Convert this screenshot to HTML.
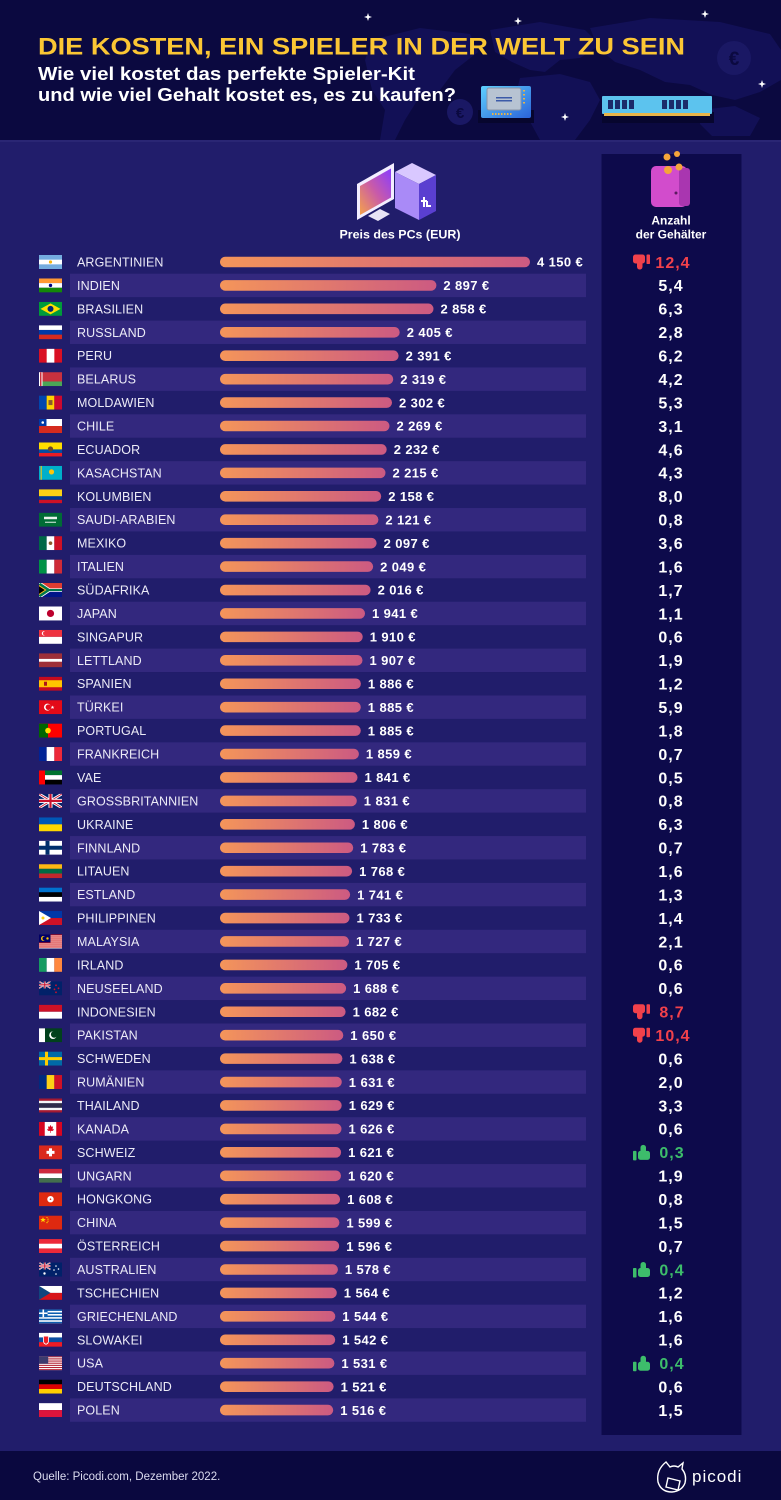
<!DOCTYPE html>
<html><head><meta charset="utf-8"><style>
html,body{margin:0;padding:0;background:#211d6b;}
svg{display:block;font-family:"Liberation Sans",sans-serif;}
.s{fill:#33287e}
.n{font-size:12.5px;fill:#ecebf7;letter-spacing:0.1px}
.b{fill:url(#bg)}
.v{font-size:13px;font-weight:bold;fill:#fff;letter-spacing:0.4px}
.r{font-size:16px;font-weight:bold;fill:#fff;letter-spacing:1px;text-anchor:middle}
.rd{fill:#f2414b}
.gr{fill:#3dbd6b}
</style></head><body>
<svg width="781" height="1500" viewBox="0 0 781 1500" xmlns="http://www.w3.org/2000/svg">
<defs>
<linearGradient id="bg" x1="0" x2="1" y1="0" y2="0"><stop offset="0" stop-color="#f4955a"/><stop offset="1" stop-color="#cc5a82"/></linearGradient>
<linearGradient id="scr" x1="1" y1="0" x2="0" y2="1"><stop offset="0" stop-color="#8a3cff"/><stop offset="0.5" stop-color="#c95ba8"/><stop offset="1" stop-color="#f5a24a"/></linearGradient>
<linearGradient id="cpu" x1="0" y1="0" x2="1" y2="1"><stop offset="0" stop-color="#5fd0ff"/><stop offset="1" stop-color="#2b63d8"/></linearGradient>
<clipPath id="fc"><rect width="23" height="14"/></clipPath>
<g id="uj"><rect width="23" height="14" fill="#012169"/><path d="M0,0L23,14M23,0L0,14" stroke="#fff" stroke-width="2.8"/><path d="M0,0L23,14M23,0L0,14" stroke="#c8102e" stroke-width="0.9"/><path d="M11.5,0V14M0,7H23" stroke="#fff" stroke-width="4"/><path d="M11.5,0V14M0,7H23" stroke="#c8102e" stroke-width="2.2"/></g>
</defs>
<!-- backgrounds -->
<rect width="781" height="1500" fill="#211d6b"/>
<rect width="781" height="140" fill="#0b0940"/>
<rect y="140" width="781" height="2" fill="#2a2674"/>
<!-- world map (faint) -->
<g fill="#121056">
<path d="M372,40 L420,28 L470,34 L478,52 L455,70 L440,90 L420,96 L405,120 L395,140 L380,140 L385,110 L372,90 L365,60Z"/>
<path d="M490,30 L540,22 L585,30 L600,45 L580,58 L560,60 L545,72 L530,70 L512,62 L495,52Z"/>
<path d="M520,78 L560,74 L590,82 L600,100 L590,120 L575,140 L540,140 L528,118 L515,98Z"/>
<path d="M590,28 L650,18 L720,22 L770,34 L781,50 L781,80 L760,92 L735,100 L712,95 L690,85 L665,82 L640,70 L615,62 L598,48Z"/>
<path d="M700,110 L735,106 L760,118 L750,136 L712,136 L700,124Z"/>
</g>
<!-- euro coins -->
<circle cx="734" cy="58" r="17" fill="#1a1864"/><text x="734" y="65" font-size="19" font-weight="bold" fill="#0b0940" text-anchor="middle">€</text>
<circle cx="460" cy="112" r="13" fill="#1a1864"/><text x="460" y="118" font-size="15" font-weight="bold" fill="#0b0940" text-anchor="middle">€</text>
<!-- stars -->
<g fill="#fff">
<polygon points="368,13 369,16 372,17 369,18 368,21 367,18 364,17 367,16"/>
<polygon points="518,17 519,20 522,21 519,22 518,25 517,22 514,21 517,20"/>
<polygon points="705,10 706,13 709,14 706,15 705,18 704,15 701,14 704,13"/>
<polygon points="762,80 763,83 766,84 763,85 762,88 761,85 758,84 761,83"/>
<polygon points="565,113 566,116 569,117 566,118 565,121 564,118 561,117 564,116"/>
</g>
<!-- CPU -->
<rect x="478" y="110" width="56" height="13" fill="#07062e"/>
<rect x="481" y="86" width="50" height="32" rx="2" fill="url(#cpu)"/>
<rect x="487" y="88" width="34" height="22" rx="2" fill="#b7c3d2" stroke="#8a96a8" stroke-width="1"/>
<rect x="496" y="97" width="16" height="1.5" fill="#3b5aa8"/><rect x="496" y="100" width="16" height="1.5" fill="#3b5aa8"/>
<g fill="#e8b44a"><rect x="492" y="113" width="1.5" height="2"/><rect x="495" y="113" width="1.5" height="2"/><rect x="498" y="113" width="1.5" height="2"/><rect x="501" y="113" width="1.5" height="2"/><rect x="504" y="113" width="1.5" height="2"/><rect x="507" y="113" width="1.5" height="2"/><rect x="510" y="113" width="1.5" height="2"/><rect x="523" y="90" width="2" height="1.5"/><rect x="523" y="94" width="2" height="1.5"/><rect x="523" y="98" width="2" height="1.5"/><rect x="523" y="102" width="2" height="1.5"/></g>
<!-- RAM -->
<rect x="602" y="112" width="112" height="11" fill="#07062e"/>
<rect x="602" y="96" width="110" height="18" rx="1" fill="#5cc3ee"/>
<g fill="#1b2a6a"><rect x="608" y="100" width="5" height="9"/><rect x="615" y="100" width="5" height="9"/><rect x="622" y="100" width="5" height="9"/><rect x="629" y="100" width="5" height="9"/><rect x="662" y="100" width="5" height="9"/><rect x="669" y="100" width="5" height="9"/><rect x="676" y="100" width="5" height="9"/><rect x="683" y="100" width="5" height="9"/></g>
<rect x="604" y="113" width="106" height="3" fill="#e8b44a"/>
<!-- Title -->
<text x="38" y="54.5" font-size="24.5" font-weight="bold" fill="#fbc634" textLength="647" lengthAdjust="spacingAndGlyphs">DIE KOSTEN, EIN SPIELER IN DER WELT ZU SEIN</text>
<text x="38" y="80" font-size="18" font-weight="bold" fill="#fff" textLength="377" lengthAdjust="spacingAndGlyphs">Wie viel kostet das perfekte Spieler-Kit</text>
<text x="38" y="101" font-size="18" font-weight="bold" fill="#fff" textLength="418" lengthAdjust="spacingAndGlyphs">und wie viel Gehalt kostet es, es zu kaufen?</text>
<!-- dark column -->
<rect x="601.5" y="154" width="140" height="1281" fill="#0d0a4b"/>
<!-- PC icon -->
<polygon points="395,172 412,163 436,175 419,184" fill="#d9c8ff"/>
<polygon points="395,172 419,184 419,220 395,208" fill="#a98af7"/>
<polygon points="419,184 436,175 436,211 419,220" fill="#5a3fd0"/>
<path d="M424,197 v10 M421,201 h6 M427,201 v5 h4" stroke="#fff" stroke-width="2" fill="none"/>
<polygon points="368,216 380,209 390,214 378,221" fill="#e8e4f5"/>
<polygon points="357,184 394,163 394,199 357,220" fill="#f3eeff"/>
<polygon points="360,186 391,168.5 391,197.5 360,215" fill="url(#scr)"/>
<!-- wallet -->
<circle cx="667" cy="157" r="3.5" fill="#f5a53a"/><circle cx="677" cy="154" r="3" fill="#f5a53a"/>
<rect x="651" y="166" width="36" height="41" rx="5" fill="#d24ccc"/>
<rect x="679" y="168" width="11" height="38" rx="3" fill="#a936b0"/>
<circle cx="668" cy="170" r="4" fill="#f5a53a"/><circle cx="679" cy="167" r="3.5" fill="#f5a53a"/>
<circle cx="676" cy="193" r="1.5" fill="#5a1a60"/>
<!-- column headers -->
<text x="400" y="238.5" font-size="12" font-weight="bold" fill="#fff" text-anchor="middle" textLength="121" lengthAdjust="spacingAndGlyphs">Preis des PCs (EUR)</text>
<text x="671" y="224.5" font-size="12" font-weight="bold" fill="#fff" text-anchor="middle">Anzahl</text>
<text x="671" y="238.5" font-size="12" font-weight="bold" fill="#fff" text-anchor="middle">der Gehälter</text>

<!-- ROWS -->
<g transform="translate(0,262)"><g transform="translate(39,-7)" clip-path="url(#fc)"><rect width="23" height="14" fill="#74acdf"/><rect y="4.67" width="23" height="4.67" fill="#fff"/><circle cx="11.5" cy="7" r="1.6" fill="#f6b40e"/></g><text class="n" x="77" y="4.5">ARGENTINIEN</text><rect class="b" x="220" y="-5.3" width="310" height="10.6" rx="5.3"/><text class="v" x="537" y="4.7">4 150 €</text><g transform="translate(633,-7.5)" class="rd"><rect x="0" y="0" width="12" height="9" rx="2.5"/><rect x="4" y="4" width="5.5" height="11" rx="2.7"/><rect x="13.5" y="0" width="3.5" height="9.5" rx="0.8"/></g><text class="r rd" x="673" y="5.8">12,4</text></g>

<g transform="translate(0,285.43)"><rect class="s" x="70" y="-11.7" width="516" height="23.4"/><g transform="translate(39,-7)" clip-path="url(#fc)"><rect width="23" height="4.67" fill="#ff9933"/><rect y="4.67" width="23" height="4.67" fill="#fff"/><rect y="9.33" width="23" height="4.67" fill="#138808"/><circle cx="11.5" cy="7" r="1.7" fill="#000080"/></g><text class="n" x="77" y="4.5">INDIEN</text><rect class="b" x="220" y="-5.3" width="216.4" height="10.6" rx="5.3"/><text class="v" x="443.4" y="4.7">2 897 €</text><text class="r" x="671" y="5.8">5,4</text></g>

<g transform="translate(0,308.86)"><g transform="translate(39,-7)" clip-path="url(#fc)"><rect width="23" height="14" fill="#009b3a"/><polygon points="11.5,1.5 21.5,7 11.5,12.5 1.5,7" fill="#fedf00"/><circle cx="11.5" cy="7" r="3" fill="#002776"/></g><text class="n" x="77" y="4.5">BRASILIEN</text><rect class="b" x="220" y="-5.3" width="213.5" height="10.6" rx="5.3"/><text class="v" x="440.5" y="4.7">2 858 €</text><text class="r" x="671" y="5.8">6,3</text></g>

<g transform="translate(0,332.29)"><rect class="s" x="70" y="-11.7" width="516" height="23.4"/><g transform="translate(39,-7)" clip-path="url(#fc)"><rect width="23" height="4.67" fill="#fff"/><rect y="4.67" width="23" height="4.67" fill="#0039a6"/><rect y="9.33" width="23" height="4.67" fill="#d52b1e"/></g><text class="n" x="77" y="4.5">RUSSLAND</text><rect class="b" x="220" y="-5.3" width="179.7" height="10.6" rx="5.3"/><text class="v" x="406.7" y="4.7">2 405 €</text><text class="r" x="671" y="5.8">2,8</text></g>

<g transform="translate(0,355.72)"><g transform="translate(39,-7)" clip-path="url(#fc)"><rect width="23" height="14" fill="#d91023"/><rect x="7.67" width="7.67" height="14" fill="#fff"/></g><text class="n" x="77" y="4.5">PERU</text><rect class="b" x="220" y="-5.3" width="178.6" height="10.6" rx="5.3"/><text class="v" x="405.6" y="4.7">2 391 €</text><text class="r" x="671" y="5.8">6,2</text></g>

<g transform="translate(0,379.15)"><rect class="s" x="70" y="-11.7" width="516" height="23.4"/><g transform="translate(39,-7)" clip-path="url(#fc)"><rect width="23" height="9.33" fill="#c8313e"/><rect y="9.33" width="23" height="4.67" fill="#4aa657"/><rect width="3.5" height="14" fill="#fff"/><rect x="1" width="1.5" height="14" fill="#c8313e"/></g><text class="n" x="77" y="4.5">BELARUS</text><rect class="b" x="220" y="-5.3" width="173.2" height="10.6" rx="5.3"/><text class="v" x="400.2" y="4.7">2 319 €</text><text class="r" x="671" y="5.8">4,2</text></g>

<g transform="translate(0,402.58)"><g transform="translate(39,-7)" clip-path="url(#fc)"><rect width="7.67" height="14" fill="#0046ae"/><rect x="7.67" width="7.67" height="14" fill="#ffd200"/><rect x="15.33" width="7.67" height="14" fill="#cc092f"/><rect x="9.5" y="4.5" width="4" height="5" fill="#8a5a2b"/></g><text class="n" x="77" y="4.5">MOLDAWIEN</text><rect class="b" x="220" y="-5.3" width="172" height="10.6" rx="5.3"/><text class="v" x="399" y="4.7">2 302 €</text><text class="r" x="671" y="5.8">5,3</text></g>

<g transform="translate(0,426.01)"><rect class="s" x="70" y="-11.7" width="516" height="23.4"/><g transform="translate(39,-7)" clip-path="url(#fc)"><rect width="23" height="7" fill="#fff"/><rect y="7" width="23" height="7" fill="#d52b1e"/><rect width="7.5" height="7" fill="#0039a6"/><circle cx="3.75" cy="3.5" r="1.3" fill="#fff"/></g><text class="n" x="77" y="4.5">CHILE</text><rect class="b" x="220" y="-5.3" width="169.5" height="10.6" rx="5.3"/><text class="v" x="396.5" y="4.7">2 269 €</text><text class="r" x="671" y="5.8">3,1</text></g>

<g transform="translate(0,449.44)"><g transform="translate(39,-7)" clip-path="url(#fc)"><rect width="23" height="7" fill="#ffdd00"/><rect y="7" width="23" height="3.5" fill="#034ea2"/><rect y="10.5" width="23" height="3.5" fill="#ed1c24"/><circle cx="11.5" cy="6.5" r="2.6" fill="#6b4a2a"/></g><text class="n" x="77" y="4.5">ECUADOR</text><rect class="b" x="220" y="-5.3" width="166.7" height="10.6" rx="5.3"/><text class="v" x="393.7" y="4.7">2 232 €</text><text class="r" x="671" y="5.8">4,6</text></g>

<g transform="translate(0,472.87)"><rect class="s" x="70" y="-11.7" width="516" height="23.4"/><g transform="translate(39,-7)" clip-path="url(#fc)"><rect width="23" height="14" fill="#00afca"/><circle cx="12.5" cy="6" r="2.6" fill="#fec50c"/><rect x="1.5" width="1.5" height="14" fill="#fec50c" opacity="0.7"/></g><text class="n" x="77" y="4.5">KASACHSTAN</text><rect class="b" x="220" y="-5.3" width="165.5" height="10.6" rx="5.3"/><text class="v" x="392.5" y="4.7">2 215 €</text><text class="r" x="671" y="5.8">4,3</text></g>

<g transform="translate(0,496.3)"><g transform="translate(39,-7)" clip-path="url(#fc)"><rect width="23" height="7" fill="#fcd116"/><rect y="7" width="23" height="3.5" fill="#003893"/><rect y="10.5" width="23" height="3.5" fill="#ce1126"/></g><text class="n" x="77" y="4.5">KOLUMBIEN</text><rect class="b" x="220" y="-5.3" width="161.2" height="10.6" rx="5.3"/><text class="v" x="388.2" y="4.7">2 158 €</text><text class="r" x="671" y="5.8">8,0</text></g>

<g transform="translate(0,519.73)"><rect class="s" x="70" y="-11.7" width="516" height="23.4"/><g transform="translate(39,-7)" clip-path="url(#fc)"><rect width="23" height="14" fill="#006c35"/><rect x="5" y="4" width="13" height="2.5" fill="#e8f3ec"/><rect x="6" y="9" width="11" height="1" fill="#e8f3ec"/></g><text class="n" x="77" y="4.5">SAUDI-ARABIEN</text><rect class="b" x="220" y="-5.3" width="158.4" height="10.6" rx="5.3"/><text class="v" x="385.4" y="4.7">2 121 €</text><text class="r" x="671" y="5.8">0,8</text></g>

<g transform="translate(0,543.16)"><g transform="translate(39,-7)" clip-path="url(#fc)"><rect width="7.67" height="14" fill="#006847"/><rect x="7.67" width="7.67" height="14" fill="#fff"/><rect x="15.33" width="7.67" height="14" fill="#ce1126"/><circle cx="11.5" cy="7" r="1.8" fill="#8a5a2b"/></g><text class="n" x="77" y="4.5">MEXIKO</text><rect class="b" x="220" y="-5.3" width="156.6" height="10.6" rx="5.3"/><text class="v" x="383.6" y="4.7">2 097 €</text><text class="r" x="671" y="5.8">3,6</text></g>

<g transform="translate(0,566.59)"><rect class="s" x="70" y="-11.7" width="516" height="23.4"/><g transform="translate(39,-7)" clip-path="url(#fc)"><rect width="7.67" height="14" fill="#009246"/><rect x="7.67" width="7.67" height="14" fill="#fff"/><rect x="15.33" width="7.67" height="14" fill="#ce2b37"/></g><text class="n" x="77" y="4.5">ITALIEN</text><rect class="b" x="220" y="-5.3" width="153.1" height="10.6" rx="5.3"/><text class="v" x="380.1" y="4.7">2 049 €</text><text class="r" x="671" y="5.8">1,6</text></g>

<g transform="translate(0,590.02)"><g transform="translate(39,-7)" clip-path="url(#fc)"><rect width="23" height="7" fill="#e03c31"/><rect y="7" width="23" height="7" fill="#001489"/><polygon points="0,0 3,0 11,5.3 23,5.3 23,8.7 11,8.7 3,14 0,14" fill="#fff"/><polygon points="0,0.8 1.5,0 10.5,6 23,6 23,8 10.5,8 1.5,14 0,13.2" fill="#007749"/><polygon points="0,2 7.5,7 0,12" fill="#ffb81c"/><polygon points="0,3.2 5.8,7 0,10.8" fill="#000"/></g><text class="n" x="77" y="4.5">SÜDAFRIKA</text><rect class="b" x="220" y="-5.3" width="150.6" height="10.6" rx="5.3"/><text class="v" x="377.6" y="4.7">2 016 €</text><text class="r" x="671" y="5.8">1,7</text></g>

<g transform="translate(0,613.45)"><rect class="s" x="70" y="-11.7" width="516" height="23.4"/><g transform="translate(39,-7)" clip-path="url(#fc)"><rect width="23" height="14" fill="#fff"/><circle cx="11.5" cy="7" r="3.6" fill="#bc002d"/></g><text class="n" x="77" y="4.5">JAPAN</text><rect class="b" x="220" y="-5.3" width="145" height="10.6" rx="5.3"/><text class="v" x="372" y="4.7">1 941 €</text><text class="r" x="671" y="5.8">1,1</text></g>

<g transform="translate(0,636.88)"><g transform="translate(39,-7)" clip-path="url(#fc)"><rect width="23" height="7" fill="#ef3340"/><rect y="7" width="23" height="7" fill="#fff"/><circle cx="5" cy="3.5" r="2.2" fill="#fff"/><circle cx="6" cy="3.5" r="2" fill="#ef3340"/></g><text class="n" x="77" y="4.5">SINGAPUR</text><rect class="b" x="220" y="-5.3" width="142.7" height="10.6" rx="5.3"/><text class="v" x="369.7" y="4.7">1 910 €</text><text class="r" x="671" y="5.8">0,6</text></g>

<g transform="translate(0,660.31)"><rect class="s" x="70" y="-11.7" width="516" height="23.4"/><g transform="translate(39,-7)" clip-path="url(#fc)"><rect width="23" height="14" fill="#9e3039"/><rect y="5.6" width="23" height="2.8" fill="#fff"/></g><text class="n" x="77" y="4.5">LETTLAND</text><rect class="b" x="220" y="-5.3" width="142.5" height="10.6" rx="5.3"/><text class="v" x="369.5" y="4.7">1 907 €</text><text class="r" x="671" y="5.8">1,9</text></g>

<g transform="translate(0,683.74)"><g transform="translate(39,-7)" clip-path="url(#fc)"><rect width="23" height="14" fill="#c60b1e"/><rect y="3.5" width="23" height="7" fill="#ffc400"/><rect x="5" y="5" width="3" height="4" fill="#ad1519"/></g><text class="n" x="77" y="4.5">SPANIEN</text><rect class="b" x="220" y="-5.3" width="140.9" height="10.6" rx="5.3"/><text class="v" x="367.9" y="4.7">1 886 €</text><text class="r" x="671" y="5.8">1,2</text></g>

<g transform="translate(0,707.17)"><rect class="s" x="70" y="-11.7" width="516" height="23.4"/><g transform="translate(39,-7)" clip-path="url(#fc)"><rect width="23" height="14" fill="#e30a17"/><circle cx="8.5" cy="7" r="3.5" fill="#fff"/><circle cx="9.4" cy="7" r="2.8" fill="#e30a17"/><polygon points="13.5,5.3 14,6.6 15.4,6.6 14.3,7.4 14.7,8.8 13.5,8 12.3,8.8 12.7,7.4 11.6,6.6 13,6.6" fill="#fff"/></g><text class="n" x="77" y="4.5">TÜRKEI</text><rect class="b" x="220" y="-5.3" width="140.8" height="10.6" rx="5.3"/><text class="v" x="367.8" y="4.7">1 885 €</text><text class="r" x="671" y="5.8">5,9</text></g>

<g transform="translate(0,730.6)"><g transform="translate(39,-7)" clip-path="url(#fc)"><rect width="23" height="14" fill="#ff0000"/><rect width="9" height="14" fill="#006600"/><circle cx="9" cy="7" r="2.8" fill="#ffe000"/></g><text class="n" x="77" y="4.5">PORTUGAL</text><rect class="b" x="220" y="-5.3" width="140.8" height="10.6" rx="5.3"/><text class="v" x="367.8" y="4.7">1 885 €</text><text class="r" x="671" y="5.8">1,8</text></g>

<g transform="translate(0,754.03)"><rect class="s" x="70" y="-11.7" width="516" height="23.4"/><g transform="translate(39,-7)" clip-path="url(#fc)"><rect width="7.67" height="14" fill="#002395"/><rect x="7.67" width="7.67" height="14" fill="#fff"/><rect x="15.33" width="7.67" height="14" fill="#ed2939"/></g><text class="n" x="77" y="4.5">FRANKREICH</text><rect class="b" x="220" y="-5.3" width="138.9" height="10.6" rx="5.3"/><text class="v" x="365.9" y="4.7">1 859 €</text><text class="r" x="671" y="5.8">0,7</text></g>

<g transform="translate(0,777.46)"><g transform="translate(39,-7)" clip-path="url(#fc)"><rect width="23" height="4.67" fill="#00732f"/><rect y="4.67" width="23" height="4.67" fill="#fff"/><rect y="9.33" width="23" height="4.67" fill="#000"/><rect width="6" height="14" fill="#ff0000"/></g><text class="n" x="77" y="4.5">VAE</text><rect class="b" x="220" y="-5.3" width="137.5" height="10.6" rx="5.3"/><text class="v" x="364.5" y="4.7">1 841 €</text><text class="r" x="671" y="5.8">0,5</text></g>

<g transform="translate(0,800.89)"><rect class="s" x="70" y="-11.7" width="516" height="23.4"/><g transform="translate(39,-7)" clip-path="url(#fc)"><use href="#uj"/></g><text class="n" x="77" y="4.5">GROSSBRITANNIEN</text><rect class="b" x="220" y="-5.3" width="136.8" height="10.6" rx="5.3"/><text class="v" x="363.8" y="4.7">1 831 €</text><text class="r" x="671" y="5.8">0,8</text></g>

<g transform="translate(0,824.32)"><g transform="translate(39,-7)" clip-path="url(#fc)"><rect width="23" height="7" fill="#0057b7"/><rect y="7" width="23" height="7" fill="#ffd700"/></g><text class="n" x="77" y="4.5">UKRAINE</text><rect class="b" x="220" y="-5.3" width="134.9" height="10.6" rx="5.3"/><text class="v" x="361.9" y="4.7">1 806 €</text><text class="r" x="671" y="5.8">6,3</text></g>

<g transform="translate(0,847.75)"><rect class="s" x="70" y="-11.7" width="516" height="23.4"/><g transform="translate(39,-7)" clip-path="url(#fc)"><rect width="23" height="14" fill="#fff"/><rect x="6.5" width="4" height="14" fill="#002f6c"/><rect y="5" width="23" height="4" fill="#002f6c"/></g><text class="n" x="77" y="4.5">FINNLAND</text><rect class="b" x="220" y="-5.3" width="133.2" height="10.6" rx="5.3"/><text class="v" x="360.2" y="4.7">1 783 €</text><text class="r" x="671" y="5.8">0,7</text></g>

<g transform="translate(0,871.18)"><g transform="translate(39,-7)" clip-path="url(#fc)"><rect width="23" height="4.67" fill="#fdb913"/><rect y="4.67" width="23" height="4.67" fill="#006a44"/><rect y="9.33" width="23" height="4.67" fill="#c1272d"/></g><text class="n" x="77" y="4.5">LITAUEN</text><rect class="b" x="220" y="-5.3" width="132.1" height="10.6" rx="5.3"/><text class="v" x="359.1" y="4.7">1 768 €</text><text class="r" x="671" y="5.8">1,6</text></g>

<g transform="translate(0,894.61)"><rect class="s" x="70" y="-11.7" width="516" height="23.4"/><g transform="translate(39,-7)" clip-path="url(#fc)"><rect width="23" height="4.67" fill="#0072ce"/><rect y="4.67" width="23" height="4.67" fill="#000"/><rect y="9.33" width="23" height="4.67" fill="#fff"/></g><text class="n" x="77" y="4.5">ESTLAND</text><rect class="b" x="220" y="-5.3" width="130.1" height="10.6" rx="5.3"/><text class="v" x="357.1" y="4.7">1 741 €</text><text class="r" x="671" y="5.8">1,3</text></g>

<g transform="translate(0,918.04)"><g transform="translate(39,-7)" clip-path="url(#fc)"><rect width="23" height="7" fill="#0038a8"/><rect y="7" width="23" height="7" fill="#ce1126"/><polygon points="0,0 12,7 0,14" fill="#fff"/><circle cx="4" cy="7" r="1.5" fill="#fcd116"/></g><text class="n" x="77" y="4.5">PHILIPPINEN</text><rect class="b" x="220" y="-5.3" width="129.5" height="10.6" rx="5.3"/><text class="v" x="356.5" y="4.7">1 733 €</text><text class="r" x="671" y="5.8">1,4</text></g>

<g transform="translate(0,941.47)"><rect class="s" x="70" y="-11.7" width="516" height="23.4"/><g transform="translate(39,-7)" clip-path="url(#fc)"><rect width="23" height="14" fill="#fff"/><rect y="0" width="23" height="1" fill="#cc0001"/><rect y="2" width="23" height="1" fill="#cc0001"/><rect y="4" width="23" height="1" fill="#cc0001"/><rect y="6" width="23" height="1" fill="#cc0001"/><rect y="8" width="23" height="1" fill="#cc0001"/><rect y="10" width="23" height="1" fill="#cc0001"/><rect y="12" width="23" height="1" fill="#cc0001"/><rect width="11.5" height="8" fill="#010066"/><circle cx="4.5" cy="4" r="2.5" fill="#fc0"/><circle cx="5.5" cy="4" r="2.1" fill="#010066"/><circle cx="8.5" cy="4" r="1.2" fill="#fc0"/></g><text class="n" x="77" y="4.5">MALAYSIA</text><rect class="b" x="220" y="-5.3" width="129" height="10.6" rx="5.3"/><text class="v" x="356" y="4.7">1 727 €</text><text class="r" x="671" y="5.8">2,1</text></g>

<g transform="translate(0,964.9)"><g transform="translate(39,-7)" clip-path="url(#fc)"><rect width="7.67" height="14" fill="#169b62"/><rect x="7.67" width="7.67" height="14" fill="#fff"/><rect x="15.33" width="7.67" height="14" fill="#ff883e"/></g><text class="n" x="77" y="4.5">IRLAND</text><rect class="b" x="220" y="-5.3" width="127.4" height="10.6" rx="5.3"/><text class="v" x="354.4" y="4.7">1 705 €</text><text class="r" x="671" y="5.8">0,6</text></g>

<g transform="translate(0,988.33)"><rect class="s" x="70" y="-11.7" width="516" height="23.4"/><g transform="translate(39,-7)" clip-path="url(#fc)"><rect width="23" height="14" fill="#012169"/><g transform="scale(0.5)"><use href="#uj"/></g><circle cx="17" cy="4" r="0.9" fill="#c8102e"/><circle cx="19.5" cy="7" r="0.9" fill="#c8102e"/><circle cx="15.5" cy="8" r="0.9" fill="#c8102e"/><circle cx="17" cy="11" r="0.9" fill="#c8102e"/></g><text class="n" x="77" y="4.5">NEUSEELAND</text><rect class="b" x="220" y="-5.3" width="126.1" height="10.6" rx="5.3"/><text class="v" x="353.1" y="4.7">1 688 €</text><text class="r" x="671" y="5.8">0,6</text></g>

<g transform="translate(0,1011.76)"><g transform="translate(39,-7)" clip-path="url(#fc)"><rect width="23" height="7" fill="#ce1126"/><rect y="7" width="23" height="7" fill="#fff"/></g><text class="n" x="77" y="4.5">INDONESIEN</text><rect class="b" x="220" y="-5.3" width="125.6" height="10.6" rx="5.3"/><text class="v" x="352.6" y="4.7">1 682 €</text><g transform="translate(633,-7.5)" class="rd"><rect x="0" y="0" width="12" height="9" rx="2.5"/><rect x="4" y="4" width="5.5" height="11" rx="2.7"/><rect x="13.5" y="0" width="3.5" height="9.5" rx="0.8"/></g><text class="r rd" x="672" y="5.8">8,7</text></g>

<g transform="translate(0,1035.19)"><rect class="s" x="70" y="-11.7" width="516" height="23.4"/><g transform="translate(39,-7)" clip-path="url(#fc)"><rect width="23" height="14" fill="#01411c"/><rect width="6" height="14" fill="#fff"/><circle cx="14" cy="7" r="3.8" fill="#fff"/><circle cx="15.2" cy="6.2" r="3.3" fill="#01411c"/></g><text class="n" x="77" y="4.5">PAKISTAN</text><rect class="b" x="220" y="-5.3" width="123.3" height="10.6" rx="5.3"/><text class="v" x="350.3" y="4.7">1 650 €</text><g transform="translate(633,-7.5)" class="rd"><rect x="0" y="0" width="12" height="9" rx="2.5"/><rect x="4" y="4" width="5.5" height="11" rx="2.7"/><rect x="13.5" y="0" width="3.5" height="9.5" rx="0.8"/></g><text class="r rd" x="673" y="5.8">10,4</text></g>

<g transform="translate(0,1058.62)"><g transform="translate(39,-7)" clip-path="url(#fc)"><rect width="23" height="14" fill="#006aa7"/><rect x="6" width="3" height="14" fill="#fecc00"/><rect y="5.5" width="23" height="3" fill="#fecc00"/></g><text class="n" x="77" y="4.5">SCHWEDEN</text><rect class="b" x="220" y="-5.3" width="122.4" height="10.6" rx="5.3"/><text class="v" x="349.4" y="4.7">1 638 €</text><text class="r" x="671" y="5.8">0,6</text></g>

<g transform="translate(0,1082.05)"><rect class="s" x="70" y="-11.7" width="516" height="23.4"/><g transform="translate(39,-7)" clip-path="url(#fc)"><rect width="7.67" height="14" fill="#002b7f"/><rect x="7.67" width="7.67" height="14" fill="#fcd116"/><rect x="15.33" width="7.67" height="14" fill="#ce1126"/></g><text class="n" x="77" y="4.5">RUMÄNIEN</text><rect class="b" x="220" y="-5.3" width="121.8" height="10.6" rx="5.3"/><text class="v" x="348.8" y="4.7">1 631 €</text><text class="r" x="671" y="5.8">2,0</text></g>

<g transform="translate(0,1105.48)"><g transform="translate(39,-7)" clip-path="url(#fc)"><rect width="23" height="14" fill="#a51931"/><rect y="2.33" width="23" height="9.33" fill="#f4f5f8"/><rect y="4.67" width="23" height="4.67" fill="#2d2a4a"/></g><text class="n" x="77" y="4.5">THAILAND</text><rect class="b" x="220" y="-5.3" width="121.7" height="10.6" rx="5.3"/><text class="v" x="348.7" y="4.7">1 629 €</text><text class="r" x="671" y="5.8">3,3</text></g>

<g transform="translate(0,1128.91)"><rect class="s" x="70" y="-11.7" width="516" height="23.4"/><g transform="translate(39,-7)" clip-path="url(#fc)"><rect width="23" height="14" fill="#d80621"/><rect x="5.75" width="11.5" height="14" fill="#fff"/><polygon points="11.5,3 12.5,5 14,4.5 13.5,7.5 15,7 14,9 11.8,9 11.8,11 11.2,11 11.2,9 9,9 8,7 9.5,7.5 9,4.5 10.5,5" fill="#d80621"/></g><text class="n" x="77" y="4.5">KANADA</text><rect class="b" x="220" y="-5.3" width="121.5" height="10.6" rx="5.3"/><text class="v" x="348.5" y="4.7">1 626 €</text><text class="r" x="671" y="5.8">0,6</text></g>

<g transform="translate(0,1152.34)"><g transform="translate(39,-7)" clip-path="url(#fc)"><rect width="23" height="14" fill="#da291c"/><rect x="10" y="3" width="3" height="8" fill="#fff"/><rect x="7.5" y="5.5" width="8" height="3" fill="#fff"/></g><text class="n" x="77" y="4.5">SCHWEIZ</text><rect class="b" x="220" y="-5.3" width="121.1" height="10.6" rx="5.3"/><text class="v" x="348.1" y="4.7">1 621 €</text><g transform="translate(633,-7.5)" class="gr"><rect x="0" y="6" width="3.5" height="9.5" rx="0.8"/><rect x="5" y="6" width="12" height="9" rx="2.5"/><rect x="7.5" y="0" width="5.5" height="11" rx="2.7"/></g><text class="r gr" x="672" y="5.8">0,3</text></g>

<g transform="translate(0,1175.77)"><rect class="s" x="70" y="-11.7" width="516" height="23.4"/><g transform="translate(39,-7)" clip-path="url(#fc)"><rect width="23" height="4.67" fill="#cd2a3e"/><rect y="4.67" width="23" height="4.67" fill="#fff"/><rect y="9.33" width="23" height="4.67" fill="#436f4d"/></g><text class="n" x="77" y="4.5">UNGARN</text><rect class="b" x="220" y="-5.3" width="121" height="10.6" rx="5.3"/><text class="v" x="348" y="4.7">1 620 €</text><text class="r" x="671" y="5.8">1,9</text></g>

<g transform="translate(0,1199.2)"><g transform="translate(39,-7)" clip-path="url(#fc)"><rect width="23" height="14" fill="#de2910"/><circle cx="11.5" cy="7" r="3.2" fill="#fff"/><circle cx="11.5" cy="7" r="0.8" fill="#de2910"/></g><text class="n" x="77" y="4.5">HONGKONG</text><rect class="b" x="220" y="-5.3" width="120.1" height="10.6" rx="5.3"/><text class="v" x="347.1" y="4.7">1 608 €</text><text class="r" x="671" y="5.8">0,8</text></g>

<g transform="translate(0,1222.63)"><rect class="s" x="70" y="-11.7" width="516" height="23.4"/><g transform="translate(39,-7)" clip-path="url(#fc)"><rect width="23" height="14" fill="#de2910"/><polygon points="4,1.5 4.8,3.4 6.8,3.4 5.2,4.6 5.8,6.6 4,5.4 2.2,6.6 2.8,4.6 1.2,3.4 3.2,3.4" fill="#ffde00"/><circle cx="8" cy="1.8" r="0.6" fill="#ffde00"/><circle cx="9" cy="3.5" r="0.6" fill="#ffde00"/><circle cx="9" cy="5.5" r="0.6" fill="#ffde00"/><circle cx="8" cy="7" r="0.6" fill="#ffde00"/></g><text class="n" x="77" y="4.5">CHINA</text><rect class="b" x="220" y="-5.3" width="119.4" height="10.6" rx="5.3"/><text class="v" x="346.4" y="4.7">1 599 €</text><text class="r" x="671" y="5.8">1,5</text></g>

<g transform="translate(0,1246.06)"><g transform="translate(39,-7)" clip-path="url(#fc)"><rect width="23" height="14" fill="#ed2939"/><rect y="4.67" width="23" height="4.67" fill="#fff"/></g><text class="n" x="77" y="4.5">ÖSTERREICH</text><rect class="b" x="220" y="-5.3" width="119.2" height="10.6" rx="5.3"/><text class="v" x="346.2" y="4.7">1 596 €</text><text class="r" x="671" y="5.8">0,7</text></g>

<g transform="translate(0,1269.49)"><rect class="s" x="70" y="-11.7" width="516" height="23.4"/><g transform="translate(39,-7)" clip-path="url(#fc)"><rect width="23" height="14" fill="#012169"/><g transform="scale(0.5)"><use href="#uj"/></g><circle cx="5.5" cy="11" r="1.2" fill="#fff"/><circle cx="17" cy="3.5" r="0.8" fill="#fff"/><circle cx="19.5" cy="6.5" r="0.8" fill="#fff"/><circle cx="15" cy="7.5" r="0.8" fill="#fff"/><circle cx="17" cy="11.5" r="0.8" fill="#fff"/></g><text class="n" x="77" y="4.5">AUSTRALIEN</text><rect class="b" x="220" y="-5.3" width="117.9" height="10.6" rx="5.3"/><text class="v" x="344.9" y="4.7">1 578 €</text><g transform="translate(633,-7.5)" class="gr"><rect x="0" y="6" width="3.5" height="9.5" rx="0.8"/><rect x="5" y="6" width="12" height="9" rx="2.5"/><rect x="7.5" y="0" width="5.5" height="11" rx="2.7"/></g><text class="r gr" x="672" y="5.8">0,4</text></g>

<g transform="translate(0,1292.92)"><g transform="translate(39,-7)" clip-path="url(#fc)"><rect width="23" height="7" fill="#fff"/><rect y="7" width="23" height="7" fill="#d7141a"/><polygon points="0,0 11.5,7 0,14" fill="#11457e"/></g><text class="n" x="77" y="4.5">TSCHECHIEN</text><rect class="b" x="220" y="-5.3" width="116.8" height="10.6" rx="5.3"/><text class="v" x="343.8" y="4.7">1 564 €</text><text class="r" x="671" y="5.8">1,2</text></g>

<g transform="translate(0,1316.35)"><rect class="s" x="70" y="-11.7" width="516" height="23.4"/><g transform="translate(39,-7)" clip-path="url(#fc)"><rect width="23" height="14" fill="#fff"/><rect y="0" width="23" height="1.56" fill="#0d5eaf"/><rect y="3.11" width="23" height="1.56" fill="#0d5eaf"/><rect y="6.22" width="23" height="1.56" fill="#0d5eaf"/><rect y="9.33" width="23" height="1.56" fill="#0d5eaf"/><rect y="12.44" width="23" height="1.56" fill="#0d5eaf"/><rect width="8.6" height="7.78" fill="#0d5eaf"/><rect x="3.5" width="1.6" height="7.78" fill="#fff"/><rect y="3.11" width="8.6" height="1.56" fill="#fff"/></g><text class="n" x="77" y="4.5">GRIECHENLAND</text><rect class="b" x="220" y="-5.3" width="115.3" height="10.6" rx="5.3"/><text class="v" x="342.3" y="4.7">1 544 €</text><text class="r" x="671" y="5.8">1,6</text></g>

<g transform="translate(0,1339.78)"><g transform="translate(39,-7)" clip-path="url(#fc)"><rect width="23" height="4.67" fill="#fff"/><rect y="4.67" width="23" height="4.67" fill="#0b4ea2"/><rect y="9.33" width="23" height="4.67" fill="#ee1c25"/><path d="M4,3 h6 v5 q0,3 -3,4 q-3,-1 -3,-4z" fill="#fff"/><path d="M4.8,3.7 h4.4 v4.2 q0,2.3 -2.2,3.2 q-2.2,-0.9 -2.2,-3.2z" fill="#ee1c25"/></g><text class="n" x="77" y="4.5">SLOWAKEI</text><rect class="b" x="220" y="-5.3" width="115.2" height="10.6" rx="5.3"/><text class="v" x="342.2" y="4.7">1 542 €</text><text class="r" x="671" y="5.8">1,6</text></g>

<g transform="translate(0,1363.21)"><rect class="s" x="70" y="-11.7" width="516" height="23.4"/><g transform="translate(39,-7)" clip-path="url(#fc)"><rect width="23" height="14" fill="#fff"/><rect y="0" width="23" height="1.08" fill="#b22234"/><rect y="2.15" width="23" height="1.08" fill="#b22234"/><rect y="4.31" width="23" height="1.08" fill="#b22234"/><rect y="6.46" width="23" height="1.08" fill="#b22234"/><rect y="8.62" width="23" height="1.08" fill="#b22234"/><rect y="10.77" width="23" height="1.08" fill="#b22234"/><rect y="12.92" width="23" height="1.08" fill="#b22234"/><rect width="9.2" height="7.54" fill="#3c3b6e"/></g><text class="n" x="77" y="4.5">USA</text><rect class="b" x="220" y="-5.3" width="114.4" height="10.6" rx="5.3"/><text class="v" x="341.4" y="4.7">1 531 €</text><g transform="translate(633,-7.5)" class="gr"><rect x="0" y="6" width="3.5" height="9.5" rx="0.8"/><rect x="5" y="6" width="12" height="9" rx="2.5"/><rect x="7.5" y="0" width="5.5" height="11" rx="2.7"/></g><text class="r gr" x="672" y="5.8">0,4</text></g>

<g transform="translate(0,1386.64)"><g transform="translate(39,-7)" clip-path="url(#fc)"><rect width="23" height="4.67" fill="#000"/><rect y="4.67" width="23" height="4.67" fill="#dd0000"/><rect y="9.33" width="23" height="4.67" fill="#ffce00"/></g><text class="n" x="77" y="4.5">DEUTSCHLAND</text><rect class="b" x="220" y="-5.3" width="113.6" height="10.6" rx="5.3"/><text class="v" x="340.6" y="4.7">1 521 €</text><text class="r" x="671" y="5.8">0,6</text></g>

<g transform="translate(0,1410.07)"><rect class="s" x="70" y="-11.7" width="516" height="23.4"/><g transform="translate(39,-7)" clip-path="url(#fc)"><rect width="23" height="7" fill="#fff"/><rect y="7" width="23" height="7" fill="#dc143c"/></g><text class="n" x="77" y="4.5">POLEN</text><rect class="b" x="220" y="-5.3" width="113.2" height="10.6" rx="5.3"/><text class="v" x="340.2" y="4.7">1 516 €</text><text class="r" x="671" y="5.8">1,5</text></g>

<!-- footer -->
<rect y="1451" width="781" height="49" fill="#0a083f"/>
<text x="33" y="1480" font-size="11.5" fill="#dcdcf0">Quelle: Picodi.com, Dezember 2022.</text>
<g fill="none" stroke="#fff" stroke-width="1.4">
<path d="M666,1462 q-10,8 -8,20 q3,10 14,10 q10,-1 13,-9 q2,-8 -3,-14 l1,-6 l-5,4 q-4,-2 -8,0 l-4,-5z"/>
<path d="M668,1478 l12,3 l-2,9 l-12,-3z"/>
</g>
<text x="692" y="1482" font-size="17" fill="#fff" letter-spacing="1">picodi</text>
</svg>
</body></html>
